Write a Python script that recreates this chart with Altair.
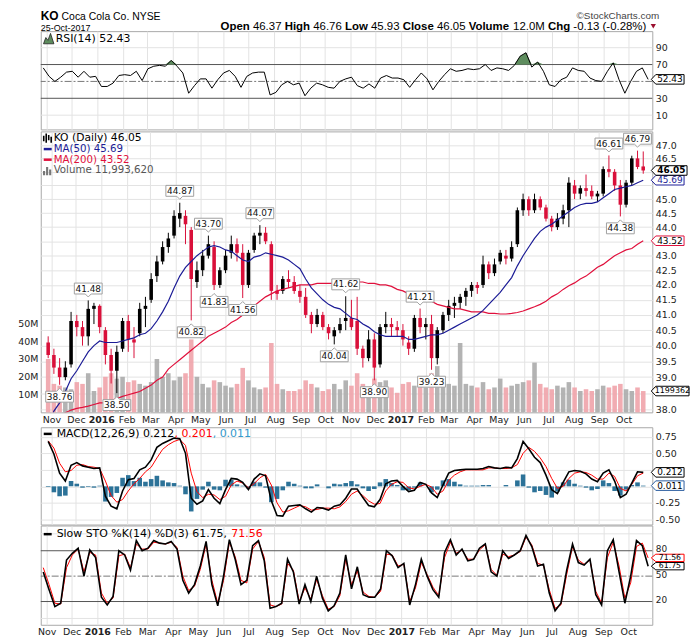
import altair as alt
import pandas as pd

# ---------------- data (weekly samples) ----------------
week_dates = [d.strftime("%Y-%m-%d") for d in pd.date_range("2015-10-28", periods=105, freq="7D")]

open_ = [40.1, 39.7, 39.3, 39.0, 39.4, 40.8, 40.6, 40.3, 41.2, 41.3,
         40.5, 39.7, 39.2, 39.9, 40.8, 40.2, 40.4, 41.2, 41.5, 42.3,
         42.8, 43.3, 43.7, 44.3, 44.4, 43.9, 42.1, 42.5, 43.0, 43.3,
         42.0, 42.5, 43.1, 43.4, 43.1, 42.0, 43.2, 43.7, 43.8, 43.4,
         41.8, 41.8, 42.2, 42.1, 41.8, 41.6, 41.0, 40.7, 41.0, 40.6,
         40.3, 40.5, 40.8, 40.9, 40.8, 39.9, 39.6, 40.2, 39.4, 40.6,
         40.7, 40.6, 40.5, 40.1, 39.9, 40.9, 40.6, 40.7, 39.6, 40.5,
         41.0, 41.3, 41.4, 41.6, 41.8, 42.0, 42.0, 42.7, 42.4, 42.8,
         43.0, 42.9, 43.4, 44.6, 45.0, 44.6, 45.0, 44.7, 44.3, 44.0,
         44.3, 44.6, 45.5, 45.2, 45.4, 45.3, 45.1, 45.2, 46.1, 46.0,
         45.5, 44.8, 45.6, 46.5, 46.2]
high = [40.3, 39.9, 39.6, 39.5, 41.1, 41.0, 40.8, 41.48, 41.4, 41.35,
        40.6, 39.9, 40.0, 40.9, 41.0, 40.6, 41.4, 41.6, 42.4, 43.0,
        43.5, 43.8, 44.6, 44.87, 44.6, 44.0, 42.8, 43.2, 43.70, 43.5,
        42.6, 43.2, 43.7, 43.6, 43.4, 43.2, 43.8, 44.07, 44.0, 43.5,
        42.0, 42.3, 42.5, 42.3, 42.0, 41.9, 41.1, 41.2, 41.1, 40.7,
        40.6, 40.9, 41.62, 41.5, 41.6, 40.0, 40.5, 40.4, 40.7, 41.1,
        40.9, 40.8, 40.7, 40.3, 41.0, 41.21, 40.9, 41.0, 40.6, 41.1,
        41.5, 41.6, 41.7, 41.9, 42.1, 42.1, 43.0, 42.8, 42.9, 43.2,
        43.2, 43.5, 44.7, 45.2, 45.1, 45.2, 45.1, 44.8, 44.4, 44.5,
        44.8, 45.8, 45.7, 45.5, 45.9, 45.5, 45.3, 46.2, 46.61, 46.1,
        45.7, 45.7, 46.6, 46.79, 46.76]
low = [39.6, 39.1, 38.76, 38.9, 39.3, 40.3, 40.0, 40.0, 40.7, 40.4,
       39.4, 38.8, 38.50, 39.8, 39.8, 39.6, 40.3, 40.6, 41.4, 42.1,
       42.7, 43.1, 43.6, 44.0, 43.4, 40.82, 41.9, 42.3, 42.9, 41.83,
       41.9, 42.4, 42.9, 42.8, 41.56, 41.9, 43.1, 43.4, 43.4, 41.5,
       41.5, 41.7, 41.9, 41.7, 41.4, 40.9, 40.4, 40.6, 40.5, 40.2,
       40.04, 40.4, 40.5, 40.5, 39.7, 39.3, 39.5, 38.90, 39.3, 40.4,
       40.3, 40.3, 40.0, 39.7, 39.8, 40.4, 40.2, 39.23, 39.4, 40.4,
       40.8, 40.9, 41.2, 41.3, 41.6, 41.7, 41.9, 42.2, 42.3, 42.7,
       42.7, 42.8, 43.3, 44.4, 44.4, 44.5, 44.6, 44.2, 43.85, 43.9,
       44.1, 44.0, 45.0, 45.0, 45.1, 45.0, 44.9, 45.1, 45.8, 45.3,
       44.38, 44.7, 45.5, 46.1, 45.93]
close = [39.7, 39.3, 39.0, 39.3, 40.8, 40.6, 40.3, 41.2, 41.3, 40.6,
         39.7, 39.2, 39.8, 40.8, 40.2, 40.1, 41.2, 41.3, 42.2, 42.8,
         43.3, 43.6, 44.4, 44.5, 44.1, 42.2, 42.5, 43.0, 43.4, 42.0,
         42.5, 43.0, 43.4, 43.1, 42.0, 43.1, 43.7, 43.8, 43.5, 41.8,
         41.7, 42.2, 42.1, 41.8, 41.6, 41.0, 40.7, 41.0, 40.6, 40.4,
         40.5, 40.7, 40.9, 40.6, 39.9, 39.6, 40.2, 39.3, 40.6, 40.7,
         40.6, 40.5, 40.2, 39.9, 40.9, 40.6, 40.7, 39.6, 40.5, 41.0,
         41.3, 41.4, 41.6, 41.8, 42.0, 41.9, 42.7, 42.4, 42.7, 43.1,
         42.9, 43.3, 44.6, 45.0, 44.6, 45.0, 44.7, 44.3, 44.0, 44.3,
         44.6, 45.6, 45.2, 45.4, 45.3, 45.1, 45.2, 46.1, 46.0, 45.5,
         44.8, 45.6, 46.5, 46.18, 46.05]
ma50 = [37.5, 37.95, 38.2, 38.55, 38.95, 39.2, 39.5, 39.8, 40.0, 40.15,
        40.1, 40.1, 40.1, 40.15, 40.2, 40.25, 40.35, 40.4, 40.55, 40.8,
        41.1, 41.45, 41.9, 42.3, 42.6, 42.8, 43.0, 43.15, 43.3, 43.35,
        43.3, 43.2, 43.15, 43.0, 42.85, 42.8, 42.95, 43.0, 43.1, 43.05,
        43.0, 42.95, 42.85, 42.7, 42.55, 42.2, 41.9, 41.7, 41.5, 41.35,
        41.25, 41.2, 41.05, 40.9, 40.85, 40.7, 40.6, 40.45, 40.35, 40.3,
        40.3, 40.3, 40.3, 40.2, 40.2, 40.25, 40.3, 40.35, 40.35, 40.4,
        40.5, 40.6, 40.7, 40.8, 40.9, 41.0, 41.15, 41.35, 41.55, 41.75,
        42.0, 42.25, 42.65, 43.0, 43.3, 43.6, 43.85, 44.0, 44.1, 44.25,
        44.4, 44.55, 44.7, 44.8, 44.85, 44.85, 44.9, 45.05, 45.2, 45.35,
        45.4, 45.45, 45.5, 45.6, 45.69]
ma200 = [37.6, 37.7, 37.8, 37.9, 37.98, 38.03, 38.06, 38.1, 38.15, 38.2,
         38.2, 38.28, 38.33, 38.4, 38.45, 38.5, 38.55, 38.65, 38.75, 38.9,
         39.0, 39.25, 39.4, 39.55, 39.7, 39.85, 40.0, 40.15, 40.3, 40.4,
         40.5, 40.6, 40.75, 40.85, 41.0, 41.15, 41.3, 41.45, 41.6, 41.7,
         41.8, 41.85, 41.9, 41.95, 42.0, 42.0, 42.0, 42.05, 42.05, 42.05,
         42.05, 42.1, 42.1, 42.1, 42.1, 42.1, 42.05, 42.05, 42.0, 42.0,
         41.95, 41.85, 41.8, 41.7, 41.65, 41.6, 41.55, 41.45, 41.35, 41.3,
         41.25, 41.2, 41.2, 41.15, 41.1, 41.1, 41.1, 41.05, 41.05, 41.03,
         41.03, 41.05, 41.08, 41.13, 41.2, 41.27, 41.35, 41.45, 41.6, 41.7,
         41.85, 41.97, 42.07, 42.2, 42.3, 42.45, 42.6, 42.7, 42.85, 43.0,
         43.1, 43.2, 43.25, 43.4, 43.52]
volume_m = [30, 16, 15, 14, 13, 17, 16, 22, 12, 14,
            20, 22, 19, 20, 17, 18, 16, 15, 17, 30,
            20, 22, 18, 20, 22, 41, 20, 16, 14, 18,
            17, 15, 14, 16, 25, 18, 14, 13, 14, 39,
            16, 13, 12, 12, 13, 18, 16, 14, 12, 13,
            16, 13, 18, 15, 22, 16, 14, 19, 17, 18,
            14, 11, 16, 17, 15, 18, 14, 22, 26, 17,
            16, 15, 39, 16, 15, 14, 17, 13, 14, 19,
            14, 15, 16, 17, 18, 28, 16, 14, 13, 15,
            14, 17, 14, 12, 13, 12, 13, 15, 14, 15,
            16, 13, 12, 14, 11.99]
rsi14 = [66, 56, 50, 55, 61, 62, 55, 62, 55, 56,
         44, 44, 48, 57, 58, 57, 62, 51, 65, 68,
         69, 68, 75, 68, 60, 36, 45, 53, 53, 42,
         52, 60, 63, 56, 43, 56, 60, 61, 61, 34,
         37, 46, 50, 46, 48, 33, 42, 48, 46, 43,
         42, 50, 53, 55, 45, 42, 47, 42, 54, 57,
         54, 54, 52, 43, 52, 60, 53, 40, 50, 58,
         65, 62, 63, 65, 64, 65, 70, 63, 66, 65,
         63, 69, 80, 84, 67, 73, 62, 46, 44, 52,
         55, 66, 63, 62, 54, 51, 50, 62, 72, 52,
         36, 50, 62, 66, 52.43]
macd_line = [0.68, 0.49, 0.20, 0.08, 0.32, 0.36, 0.31, 0.29, 0.27, 0.28,
             -0.15, -0.30, -0.34, -0.07, 0.10, 0.12, 0.25, 0.29, 0.40, 0.59,
             0.65, 0.69, 0.73, 0.72, 0.50, -0.18, -0.27, -0.22, -0.05, -0.18,
             -0.26, -0.05, 0.12, 0.11, 0.06, -0.05, 0.11, 0.19, 0.16, -0.22,
             -0.44, -0.45, -0.30, -0.29, -0.28, -0.34, -0.39, -0.32, -0.33, -0.36,
             -0.30, -0.28, -0.18, -0.04, -0.04, -0.17, -0.29, -0.31, -0.20, 0.04,
             0.08, 0.09, 0.00, -0.08, -0.06, 0.06, 0.03, -0.10, -0.17, 0.02,
             0.20, 0.24, 0.25, 0.26, 0.26, 0.26, 0.27, 0.30, 0.28, 0.27,
             0.29, 0.28, 0.42, 0.68, 0.57, 0.44, 0.36, 0.17, -0.05, -0.11,
             0.06, 0.22, 0.24, 0.23, 0.19, 0.11, 0.07, 0.20, 0.25, 0.08,
             -0.17, -0.12, 0.05, 0.22, 0.212]
macd_signal = [0.69, 0.58, 0.35, 0.22, 0.24, 0.32, 0.33, 0.30, 0.29, 0.27,
               0.08, -0.14, -0.24, -0.20, -0.07, 0.04, 0.12, 0.22, 0.29, 0.43,
               0.56, 0.63, 0.68, 0.71, 0.62, 0.20, -0.08, -0.17, -0.12, -0.13,
               -0.20, -0.15, 0.02, 0.08, 0.05, -0.02, 0.04, 0.13, 0.18, 0.02,
               -0.25, -0.39, -0.37, -0.33, -0.29, -0.31, -0.36, -0.35, -0.33, -0.33,
               -0.34, -0.31, -0.23, -0.12, -0.07, -0.14, -0.22, -0.27, -0.26, -0.07,
               0.03, 0.07, 0.06, -0.02, -0.04, 0.00, 0.03, -0.01, -0.12, -0.07,
               0.09, 0.17, 0.22, 0.25, 0.25, 0.25, 0.25, 0.28, 0.28, 0.27,
               0.27, 0.28, 0.33, 0.50, 0.59, 0.53, 0.43, 0.30, 0.12, -0.03,
               0.00, 0.12, 0.20, 0.22, 0.21, 0.17, 0.11, 0.11, 0.20, 0.15,
               -0.03, -0.07, 0.03, 0.16, 0.201]
sto_k = [55, 34, 14, 18, 69, 77, 83, 50, 81, 72,
         25, 16, 26, 80, 75, 57, 92, 80, 83, 92,
         89, 88, 91, 82, 45, 30, 40, 62, 91, 40,
         15, 50, 93, 70, 40, 45, 86, 92, 68, 12,
         14, 18, 70, 55, 17, 40, 20, 50, 24, 9,
         15, 30, 75, 35, 61, 28, 25, 25, 35, 80,
         74, 60, 65, 16, 40, 70, 50, 34, 25, 78,
         93, 75, 82, 68, 70, 83, 88, 55, 50, 80,
         71, 75, 80, 98, 85, 62, 64, 30, 9, 18,
         57, 88, 66, 63, 70, 28, 16, 80, 93, 55,
         18, 50, 92, 86, 61.75]
sto_d = [60, 40, 18, 17, 60, 75, 82, 55, 78, 75,
         30, 18, 24, 74, 76, 60, 88, 82, 82, 90,
         89, 88, 90, 84, 50, 33, 38, 58, 88, 45,
         18, 45, 90, 73, 45, 42, 82, 91, 72, 16,
         14, 17, 65, 57, 20, 36, 23, 46, 27, 11,
         14, 27, 70, 40, 56, 31, 26, 25, 32, 76,
         75, 62, 64, 20, 36, 66, 52, 37, 27, 72,
         90, 77, 81, 70, 70, 81, 87, 58, 51, 76,
         73, 75, 79, 96, 87, 65, 63, 34, 12, 16,
         52, 85, 69, 64, 69, 32, 18, 72, 90, 62,
         24, 42, 85, 89, 71.56]

hi_idx = [7, 23, 28, 37, 52, 65, 98, 103]
hi_val = [41.48, 44.87, 43.70, 44.07, 41.62, 41.21, 46.61, 46.79]
lo_idx = [2, 12, 25, 29, 34, 50, 57, 67, 100]
lo_val = [38.76, 38.50, 40.82, 41.83, 41.56, 40.04, 38.90, 39.23, 44.38]

price_ticks = [38.0, 38.5, 39.0, 39.5, 40.0, 40.5, 41.0, 41.5, 42.0, 42.5,
               43.0, 43.5, 44.0, 44.5, 45.0, 45.5, 46.0, 46.5, 47.0]
vol_ticks = [10, 20, 30, 40, 50]
macd_ticks = [-0.5, -0.25, 0, 0.25, 0.5, 0.75]

df = pd.DataFrame({"date": week_dates, "o": open_, "h": high, "l": low, "c": close,
                   "ma50": ma50, "ma200": ma200, "vol": volume_m, "rsi": rsi14,
                   "macd": macd_line, "sig": macd_signal, "k": sto_k, "d": sto_d})

# ---------------- styling ----------------
PW = 616
H_RSI, H_MAIN, H_MACD, H_STO = 99, 283, 98, 100
GRID = "#e3e3e3"
AXF = "DejaVu Sans"
LEGF = "DejaVu Sans"
HDRF = "Liberation Sans"
RED = "#e0103c"
CRED = "#d9103a"
BLUE = "#1c1c96"
one = pd.DataFrame({"a": [0]})

month_ticks = [alt.DateTime(year=y, month=m, date=1, utc=True)
               for (y, m) in [(2015, 11), (2015, 12)] + [(2016, mm) for mm in range(1, 13)] + [(2017, mm) for mm in range(1, 11)]]
xscale = alt.Scale(type="utc", domain=[alt.DateTime(year=2015, month=10, date=25, utc=True),
                                       alt.DateTime(year=2017, month=10, date=30, utc=True)])
JAN = "utcFormat(datum.value,'%m')=='01'"


def x_enc(labels=False):
    kw = dict(values=month_ticks, grid=True, gridColor=GRID, ticks=False, domain=False, title=None)
    if labels:
        kw.update(labels=True, labelExpr=JAN + " ? utcFormat(datum.value,'%Y') : utcFormat(datum.value,'%b')",
                  labelFont=AXF, labelFontSize=9.5, labelColor="#222", labelPadding=2,
                  labelOverlap=False, labelFlush=False,
                  labelFontWeight={"condition": {"test": JAN, "value": "bold"}, "value": "normal"})
    else:
        kw.update(labels=False)
    return alt.X("date:T", scale=xscale, axis=alt.Axis(**kw))


def right_axis(values, grid, fmt=None, expr=None, offset=0, size=9.5):
    kw = dict(orient="right", values=values, grid=grid, gridColor=GRID, ticks=False, domain=False, title=None,
              labelFont=AXF, labelFontSize=size, labelColor="#222", labelPadding=3,
              labelFlush=False, labelOverlap=False)
    if fmt:
        kw["format"] = fmt
    if expr:
        kw["labelExpr"] = expr
    if offset:
        kw["labelOffset"] = offset
    return alt.Axis(**kw)


def text(t, x, y, size=11, color="#000", weight="normal", font=LEGF, align="left", baseline="middle"):
    return alt.Chart(one).mark_text(text=t, font=font, fontSize=size, color=color, fontWeight=weight,
                                    align=align, baseline=baseline).encode(x=alt.value(x), y=alt.value(y))


def dash(y, color, x1=3, x2=11):
    return alt.Chart(one).mark_rule(color=color, strokeWidth=2.5).encode(
        x=alt.value(x1), x2=alt.value(x2), y=alt.value(y))


def spacer(x1, x2, y1, y2):
    return alt.Chart(one).mark_rule(color="white", strokeWidth=1).encode(
        x=alt.value(x1), x2=alt.value(x2), y=alt.value(y1), y2=alt.value(y2))


def hlines(values, yfn, color, dashp=None):
    kw = dict(color=color, strokeWidth=1)
    if dashp:
        kw["strokeDash"] = dashp
    return alt.Chart(pd.DataFrame({"v": values})).mark_rule(**kw).encode(y=yfn("v:Q"))


def value_box(val, label, border, yfn, width=33, bold=False, tcolor="#000", fsize=9, bh=9.6):
    half = width / 2.0
    hh = (bh / 2.0) / half
    sh = -1 + 4.5 / half
    path = f"M-1,0L{sh:.3f},{-hh:.3f}L1,{-hh:.3f}L1,{hh:.3f}L{sh:.3f},{hh:.3f}Z"
    d = pd.DataFrame({"v": [val]})
    box = alt.Chart(d).mark_point(shape=path, size=width * width, filled=True, fill="white",
                                  stroke=border, strokeWidth=1, opacity=1).encode(
        x=alt.value(615 + half), y=yfn("v:Q"))
    txt = alt.Chart(d).mark_text(text=label, font=AXF, fontSize=fsize, color=tcolor,
                                 fontWeight="bold" if bold else "normal", align="center",
                                 baseline="middle").encode(x=alt.value(615 + 4.5 + (width - 4.5) / 2.0),
                                                           y=yfn("v:Q"))
    return [box, txt]


# ---------------- RSI panel ----------------
rsi_scale = alt.Scale(domain=[-6.9, 109.6], nice=False, zero=False)
rsi_axis = right_axis([10, 30, 70, 90], False)


def rsi_y(f):
    return alt.Y(f, scale=rsi_scale, axis=rsi_axis)


base = alt.Chart(df)
rsi_fill = base.transform_calculate(top="max(datum.rsi, 70)", b70="70").mark_area(
    color="#5d8c5d", opacity=1).encode(x=x_enc(), y=rsi_y("top:Q"), y2="b70:Q")
rsi_line = base.mark_line(color="black", strokeWidth=1).encode(x=x_enc(), y=rsi_y("rsi:Q"))

# header row (bold labels + regular values), laid out with Arial metrics
AR = {c: .556 for c in "0123456789"}
AR.update({'.': .278, ' ': .278, '-': .333, '(': .333, ')': .333, '%': .889, 'M': .833})
ARB = {'O': .778, 'p': .611, 'e': .556, 'n': .611, 'H': .722, 'i': .278, 'g': .611, 'h': .611, 'L': .611,
       'o': .611, 'w': .778, 'C': .722, 'l': .278, 's': .556, 'V': .667, 'u': .611, 'm': .889}
hdr = [("Open", True), ("46.37", False), ("High", True), ("46.76", False), ("Low", True), ("45.93", False),
       ("Close", True), ("46.05", False), ("Volume", True), ("12.0M", False), ("Chg", True),
       ("-0.13", False), ("(-0.28%)", False)]
HFS = 11.5
widths = [sum((ARB if b else AR)[ch] for ch in t) * HFS for t, b in hdr]
total = sum(widths) + .278 * HFS * (len(hdr) - 1)
hx = 610 - total
hdr_layers = []
for (t, b), w in zip(hdr, widths):
    hdr_layers.append(text(t, hx, -0.8, size=HFS, weight="bold" if b else "normal", font=HDRF,
                           baseline="alphabetic"))
    hx += w + .278 * HFS
tri = alt.Chart(one).mark_point(shape="triangle-down", size=28, filled=True, color="#9b1030", opacity=1).encode(
    x=alt.value(617), y=alt.value(-5))

rsi_icon = alt.Chart(one).mark_point(shape="M-1,1L-0.55,-0.2L-0.15,0.35L0.35,-1L1,1Z", size=110, filled=True,
                                     fill="#5d8c5d", stroke="#222", strokeWidth=0.8, opacity=1).encode(
    x=alt.value(8), y=alt.value(7.5))

rsi = alt.layer(
    spacer(0, 1, -23, -23), spacer(-32, -32, 0, 1),
    hlines([10, 90], rsi_y, GRID),
    hlines([30, 70], rsi_y, "#555"),
    hlines([50], rsi_y, "#777", [7, 2, 2, 2]),
    rsi_fill, rsi_line,
    rsi_icon, text("RSI(14) 52.43", 15, 7.7),
    *value_box(52.43, "52.43", "#000", rsi_y),
    text("KO", 0, -11, size=12, weight="bold", font=HDRF, baseline="alphabetic"),
    text("Coca Cola Co. NYSE", 21, -11, size=10.5, font=HDRF, baseline="alphabetic"),
    text("25-Oct-2017", 0, -0.4, size=9, font=HDRF, baseline="alphabetic"),
    text("\u00a9StockCharts.com", 623, -12, size=10, color="#444", font=HDRF, align="right",
         baseline="alphabetic"),
    *hdr_layers, tri,
).properties(width=PW, height=H_RSI)

# ---------------- main price panel ----------------
price_scale = alt.Scale(type="log", domain=[37.91, 47.52], nice=False, zero=False)
price_axis = right_axis(price_ticks, True,
                        expr="indexof([46, 45.5, 43.5, 38.5], datum.value) >= 0 ? '' : format(datum.value, '.1f')")


def py(f):
    return alt.Y(f, scale=price_scale, axis=price_axis)


vol_scale = alt.Scale(domain=[0, 158], nice=False, zero=True)
vol_axis = alt.Axis(orient="left", values=vol_ticks, labelExpr="datum.value + 'M'", grid=False, ticks=False,
                    domain=False, title=None, labelFont=AXF, labelFontSize=9.5, labelColor="#222", labelPadding=3)


def vy(f):
    return alt.Y(f, scale=vol_scale, axis=vol_axis)


colored = base.transform_calculate(
    vcol="datum.c >= datum.o ? '#ababab' : '#f0a3aa'",
    ccol="datum.c >= datum.o ? '#000000' : '" + CRED + "'")

vol_bars = colored.mark_bar(size=4.6, opacity=0.9).encode(
    x=x_enc(True), y=vy("vol:Q"), color=alt.Color("vcol:N", scale=None))
vol_group = alt.layer(
    spacer(-32, -32, 0, 1), spacer(0, 1, H_MAIN + 14, H_MAIN + 14),
    vol_bars,
    *value_box(11.99, "1199362", "#000", vy, width=38, fsize=8),
)

wick = colored.mark_rule(strokeWidth=1).encode(x=x_enc(True), y=py("l:Q"), y2="h:Q",
                                               color=alt.Color("ccol:N", scale=None))
body = colored.mark_bar(size=3.6).encode(x=x_enc(True), y=py("o:Q"), y2="c:Q",
                                         color=alt.Color("ccol:N", scale=None))
ma200_line = base.mark_line(color=RED, strokeWidth=1.2, clip=True).encode(x=x_enc(True), y=py("ma200:Q"))
ma50_line = base.mark_line(color=BLUE, strokeWidth=1.2, clip=True).encode(x=x_enc(True), y=py("ma50:Q"))

PATH_HI = "M-1,-0.393L1,-0.393L1,0.393L0.214,0.393L0,0.607L-0.214,0.393L-1,0.393Z"
PATH_LO = "M-1,0.393L1,0.393L1,-0.393L0.214,-0.393L0,-0.607L-0.214,-0.393L-1,-0.393Z"
hi_df = pd.DataFrame({"date": [week_dates[i] for i in hi_idx], "v": hi_val, "t": [f"{v:.2f}" for v in hi_val]})
lo_df = pd.DataFrame({"date": [week_dates[i] for i in lo_idx], "v": lo_val, "t": [f"{v:.2f}" for v in lo_val]})


def ann(d, path, off):
    b = alt.Chart(d).mark_point(shape=path, size=784, filled=True, fill="white", stroke="#a0a0a0",
                                strokeWidth=1, opacity=1, yOffset=off).encode(x=x_enc(True), y=py("v:Q"))
    t = alt.Chart(d).mark_text(font=AXF, fontSize=9, color="#111", dy=off, baseline="middle",
                               align="center").encode(x=x_enc(True), y=py("v:Q"), text="t:N")
    return [b, t]


ko_icon = alt.Chart(one).mark_point(
    shape="M-0.8,-0.5L-0.8,0.6M-0.3,-1L-0.3,0.9M0.2,-0.7L0.2,0.4M0.7,-0.3L0.7,0.9",
    size=100, filled=False, stroke="#000", strokeWidth=1.6, opacity=1).encode(x=alt.value(7), y=alt.value(7))
vol_icon = alt.Chart(one).mark_point(
    shape="M-1,1L-1,0.1L-0.55,0.1L-0.55,1ZM-0.35,1L-0.35,-0.7L0.1,-0.7L0.1,1ZM0.3,1L0.3,-0.2L0.75,-0.2L0.75,1Z",
    size=90, filled=True, fill="#777", strokeWidth=0, opacity=1).encode(x=alt.value(7), y=alt.value(39.3))

MLF = 10.3
price_group = alt.layer(
    wick, body, ma200_line, ma50_line,
    *ann(hi_df, PATH_HI, -12), *ann(lo_df, PATH_LO, 12),
    ko_icon, text("KO (Daily) 46.05", 13, 7, size=10.8),
    dash(17.8, BLUE), text("MA(50) 45.69", 13, 17.8, color=BLUE, size=MLF),
    dash(28.5, RED), text("MA(200) 43.52", 13, 28.5, color=RED, size=MLF),
    vol_icon, text("Volume 11,993,620", 13, 39.3, color="#555", size=MLF),
    *value_box(43.52, "43.52", RED, py),
    *value_box(45.69, "45.69", BLUE, py, tcolor=BLUE),
    *value_box(46.05, "46.05", "#000", py, width=36, bold=True),
)

main = alt.layer(vol_group, price_group).resolve_scale(y="independent").properties(width=PW, height=H_MAIN)

# ---------------- MACD panel ----------------
macd_scale = alt.Scale(domain=[-0.578, 0.895], nice=False, zero=False)
macd_axis = right_axis(macd_ticks, True,
                       expr="datum.value == 0 || datum.value == 0.25 ? '' : replace(format(datum.value,'.2f'),'\u2212','-')")


def my(f):
    return alt.Y(f, scale=macd_scale, axis=macd_axis)


hist = base.transform_calculate(hist="datum.macd - datum.sig", z="0").mark_bar(
    size=4.6, color="#2c7298").encode(x=x_enc(), y=my("hist:Q"), y2="z:Q")
sig_line = base.mark_line(color="#ff0000", strokeWidth=1).encode(x=x_enc(), y=my("sig:Q"))
macd_l = base.mark_line(color="#000", strokeWidth=1.6).encode(x=x_enc(), y=my("macd:Q"))

macd = alt.layer(
    spacer(-32, -32, 0, 1),
    hist, sig_line, macd_l,
    dash(6.7, "#000"),
    text("MACD(12,26,9) 0.212", 16, 6.7),
    text(", 0.201", 134.7, 6.7, color="#ff0000"),
    text(", 0.011", 173.2, 6.7, color="#3399cc"),
    *value_box(0.011, "0.011", "#2a5d9f", my),
    *value_box(0.212, "0.212", "#000", my),
).properties(width=PW, height=H_MACD)

# ---------------- Slow STO panel ----------------
sto_scale = alt.Scale(domain=[-7.5, 109.8], nice=False, zero=False)
sto_axis = right_axis([20, 50, 80], False, offset=-2, size=9)


def sy(f):
    return alt.Y(f, scale=sto_scale, axis=sto_axis)


d_line = base.mark_line(color="#ff0000", strokeWidth=1).encode(x=x_enc(True), y=sy("d:Q"))
k_line = base.mark_line(color="#000", strokeWidth=1.6).encode(x=x_enc(True), y=sy("k:Q"))

sto = alt.layer(
    spacer(-32, -32, 0, 1),
    hlines([0, 100], sy, GRID),
    hlines([20, 80], sy, "#555"),
    hlines([50], sy, "#777", [7, 2, 2, 2]),
    d_line, k_line,
    dash(8.7, "#000"),
    text("Slow STO %K(14) %D(3) 61.75,", 16, 8.7),
    text("71.56", 192, 8.7, color="#ff0000"),
    *value_box(71.56, "71.56", "#ff0000", sy, bh=7.4, fsize=7.8),
    *value_box(61.75, "61.75", "#000", sy, bh=7.4, fsize=7.8),
).properties(width=PW, height=H_STO)

chart = alt.vconcat(rsi, main, macd, sto, spacing=-1).resolve_scale(
    y="independent", x="independent"
).properties(
    padding={"left": 0, "top": -3, "right": 0, "bottom": 0}, background="white"
).configure_view(stroke="#a8a8a8", strokeWidth=1)

chart.save("out.html", embed_options={"renderer": "svg", "actions": False})
